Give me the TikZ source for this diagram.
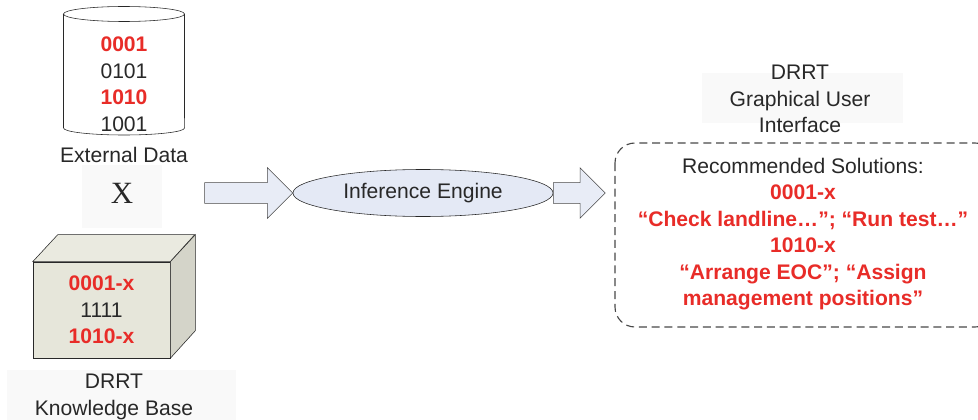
\documentclass[tikz,border=0pt]{standalone}
\usepackage{fontspec}
\setmainfont{Liberation Sans}
\newfontfamily\xserif{Liberation Serif}
\usetikzlibrary{shapes.geometric,shapes.arrows,positioning}
\definecolor{solred}{RGB}{232,44,40}
\definecolor{ink}{RGB}{40,40,40}
\definecolor{cubefill}{RGB}{230,230,218}
\definecolor{enginefill}{RGB}{228,233,245}
\definecolor{arrowfill}{RGB}{232,236,246}
\definecolor{labelbg}{RGB}{249,249,249}

\begin{document}
\begin{tikzpicture} [
   x=0.025cm, y=-0.025cm, font=\fontsize{15}{18.85}\selectfont, text=ink,
   txt/.style={align=center, inner sep=0pt},
   hot/.style={text=solred, font=\fontsize{15}{18.85}\selectfont\bfseries},
   bgbox/.style={fill=labelbg, draw=none},
   blockarrow/.style={single arrow, draw=ink!85, fill=arrowfill, inner xsep=0pt,
      inner ysep=0.25cm, outer sep=0pt, single arrow head extend=0.375cm,
      minimum height=#1}
]
   \useasboundingbox (0,0) rectangle (978,420);
   \clip (0,0) rectangle (978,420);

   % external data (cylinder)
   \draw[ink, fill=white] (63.5,14) -- (63.5,128)
      arc[start angle=180, end angle=360, x radius=1.5125cm, y radius=0.175cm]
      -- (184.5,14)
      arc[start angle=0, end angle=180, x radius=1.5125cm, y radius=0.1875cm] -- cycle;
   \draw[ink] (63.5,14) arc[start angle=180, end angle=360, x radius=1.5125cm, y radius=0.1875cm];
   \node (ext) [txt] at (124,84) {\textcolor{solred}{\bfseries 0001}\\0101\\
      \textcolor{solred}{\bfseries 1010}\\1001};
   \node (extlabel) [txt] at (124,155) {External Data};

   % cross sign
   \node (crossbg) [bgbox, minimum width=2cm, minimum height=1.575cm] at (122,196.5) {};
   \node (cross) [txt, font=\xserif\fontsize{22}{26}\selectfont] at (122,193) {X};

   % knowledge base (box)
   \node (kb) [draw=ink, fill=cubefill, txt, minimum width=3.425cm, minimum height=2.4cm]
      at (101.5,310) {\textcolor{solred}{\bfseries 0001-x}\\1111\\
      \textcolor{solred}{\bfseries 1010-x}};
   \draw[ink, fill=cubefill!85!white] (kb.north west) -- ++(25,-27) -- ++(137,0)
      -- (kb.north east) -- cycle;
   \draw[ink, fill=cubefill!92!black] (kb.north east) -- ++(25,-27) -- ++(0,96)
      -- (kb.south east) -- cycle;
   \node (kbbg) [bgbox, minimum width=5.7cm, minimum height=1.25cm] at (121.5,395) {};
   \node (kblabel) [txt] at (114,397) {DRRT\\Knowledge Base};

   % inference engine
   \node (ie) [ellipse, draw=ink, fill=enginefill, minimum width=6.5cm,
      minimum height=1.175cm, inner sep=0pt] at (423,193) {Inference Engine};
   \node (inarrow) [blockarrow=2.2cm, anchor=tip] at (ie.west) {};
   \node (outarrow) [blockarrow=1.3cm, anchor=tail] at (ie.east) {};

   % graphical user interface
   \node (guibg) [bgbox, minimum width=5.025cm, minimum height=1.25cm] at (802.5,98) {};
   \node (guilabel) [txt] at (800,99) {DRRT\\Graphical User\\Interface};
   \draw[ink!85, line width=0.8pt, dash pattern=on 0.2cm off 0.12cm, rounded corners=0.5cm]
      (615,143) rectangle (995,327);
   \node (sol) [txt] at (803,234) {Recommended Solutions:\\
      \textcolor{solred}{\bfseries 0001-x}\\
      \textcolor{solred}{\bfseries “Check landline…”; “Run test…”}\\
      \textcolor{solred}{\bfseries 1010-x}\\
      \textcolor{solred}{\bfseries “Arrange EOC”; “Assign}\\
      \textcolor{solred}{\bfseries management positions”}};
\end{tikzpicture}
\end{document}
